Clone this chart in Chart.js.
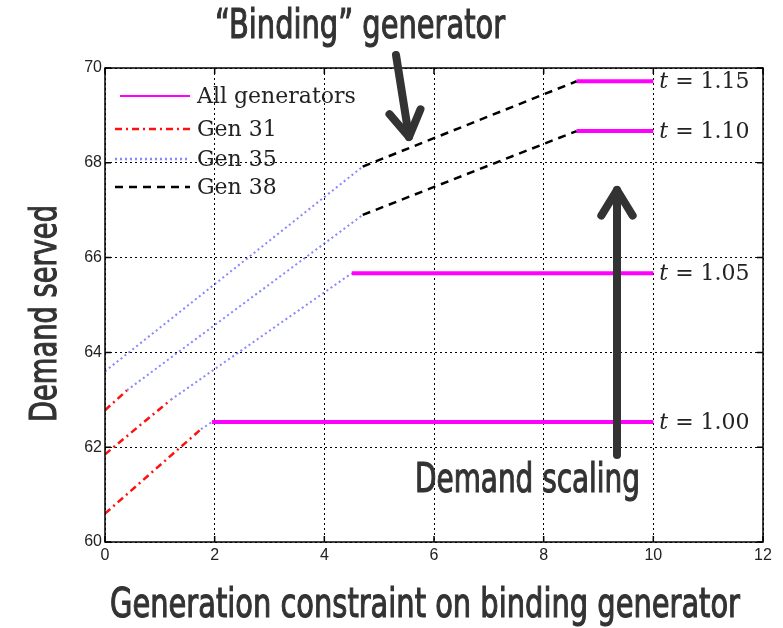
<!DOCTYPE html>
<html><head><meta charset="utf-8">
<script src="https://cdn.jsdelivr.net/npm/chart.js@4"></script>
<style>html,body{margin:0;padding:0;background:#fff;}#wrap{width:783px;height:628px;}</style>
</head><body><div id="wrap"><canvas id="c" width="783" height="628"></canvas></div>
<script>
// ---------- data ----------
const xTicks = [0, 2, 4, 6, 8, 10, 12];
const yTicks = [60, 62, 64, 66, 68, 70];
const scalingLabels = ['1.00', '1.05', '1.10', '1.15'];
// "All generators" (magenta) flat segments, one per scaling t
const allGenStartX = [1.95, 4.5, 8.6, 8.6];
const allGenEndX = [10, 10, 10, 10];
const allGenLevel = [62.53, 65.67, 68.67, 69.72];
// Gen 31 (red) segments
const gen31X = [[0, 1.75], [0, 1.2], [0, 0.4]];
const gen31Y = [[60.6, 62.38], [61.85, 63.0], [62.78, 63.2]];
// Gen 35 (blue) segments
const gen35X = [[1.75, 1.95], [1.2, 4.5], [0.4, 4.7], [0, 4.7]];
const gen35Y = [[62.38, 62.53], [63.0, 65.67], [63.2, 66.9], [63.6, 67.92]];
// Gen 38 (black) segments
const gen38X = [[4.7, 8.6], [4.7, 8.6]];
const gen38Y = [[66.9, 68.67], [67.92, 69.72]];
const xTitle = 'Generation constraint on binding generator';
const yTitle = 'Demand served';

// ---------- styles ----------
const styles = {
  'All generators': {color: '#ff00ff', width: 4, dash: [], legendWidth: 2},
  'Gen 31': {color: '#ff1010', width: 2.5, dash: [7, 4, 2, 4], legendWidth: 2.5},
  'Gen 35': {color: 'rgba(70,70,255,0.65)', width: 2, dash: [2, 3], legendWidth: 2.5},
  'Gen 38': {color: '#000000', width: 2.5, dash: [8, 6], legendWidth: 2.5}
};

function seg(name, xs, ys) {
  const st = styles[name];
  return {
    label: name,
    data: xs.map((x, i) => ({x: x, y: ys[i]})),
    showLine: true, fill: false, pointRadius: 0,
    borderColor: st.color, borderWidth: st.width, borderDash: st.dash,
    borderCapStyle: 'butt'
  };
}
const datasets = [];
gen31X.forEach((xs, i) => datasets.push(seg('Gen 31', xs, gen31Y[i])));
gen35X.forEach((xs, i) => datasets.push(seg('Gen 35', xs, gen35Y[i])));
gen38X.forEach((xs, i) => datasets.push(seg('Gen 38', xs, gen38Y[i])));
allGenLevel.forEach((lv, i) => datasets.push(seg('All generators', [allGenStartX[i], allGenEndX[i]], [lv, lv])));

const annotFont = '"Liberation Sans Narrow", "DejaVu Sans Condensed", sans-serif';
const serifFont = '"DejaVu Serif", "Liberation Serif", serif';

function fitText(ctx, text, left, baseline, targetW, font, rot) {
  ctx.save();
  ctx.font = font;
  const w = ctx.measureText(text).width;
  ctx.translate(left, baseline);
  if (rot) ctx.rotate(rot);
  ctx.scale(targetW / w, 1);
  ctx.textAlign = 'left';
  ctx.textBaseline = 'alphabetic';
  ctx.fillStyle = '#333';
  ctx.strokeStyle = '#333';
  ctx.lineWidth = 1.1;
  ctx.setLineDash([]);
  ctx.fillText(text, 0, 0);
  ctx.strokeText(text, 0, 0);
  ctx.restore();
}
function arrow(ctx, x0, y0, x1, y1, lw, head) {
  const a = Math.atan2(y1 - y0, x1 - x0);
  ctx.save();
  ctx.strokeStyle = '#333'; ctx.lineWidth = lw; ctx.lineCap = 'round'; ctx.lineJoin = 'round';
  ctx.setLineDash([]);
  ctx.beginPath(); ctx.moveTo(x0, y0); ctx.lineTo(x1, y1); ctx.stroke();
  ctx.beginPath();
  ctx.moveTo(x1 - head * Math.cos(a - 0.55), y1 - head * Math.sin(a - 0.55));
  ctx.lineTo(x1, y1);
  ctx.lineTo(x1 - head * Math.cos(a + 0.55), y1 - head * Math.sin(a + 0.55));
  ctx.stroke();
  ctx.restore();
}

const decor = {
  id: 'decor',
  afterDraw(chart) {
    const ctx = chart.ctx, ca = chart.chartArea, xs = chart.scales.x, ys = chart.scales.y;
    ctx.save();
    // box
    ctx.setLineDash([]);
    ctx.strokeStyle = '#000'; ctx.lineWidth = 1.5;
    ctx.strokeRect(ca.left, ca.top, ca.right - ca.left, ca.bottom - ca.top);
    // inner ticks
    yTicks.forEach(v => {
      const y = ys.getPixelForValue(v);
      ctx.beginPath(); ctx.moveTo(ca.left, y); ctx.lineTo(ca.left + 6, y);
      ctx.moveTo(ca.right, y); ctx.lineTo(ca.right - 6, y); ctx.stroke();
    });
    xTicks.forEach(v => {
      const x = xs.getPixelForValue(v);
      ctx.beginPath(); ctx.moveTo(x, ca.bottom); ctx.lineTo(x, ca.bottom - 6);
      ctx.moveTo(x, ca.top); ctx.lineTo(x, ca.top + 6); ctx.stroke();
    });
    // legend
    const names = ['All generators', 'Gen 31', 'Gen 35', 'Gen 38'];
    const rowY = [96, 129, 159, 187];
    names.forEach((n, i) => {
      const st = styles[n];
      const y = rowY[i];
      ctx.strokeStyle = st.color; ctx.lineWidth = st.legendWidth;
      ctx.setLineDash(st.dash);
      ctx.beginPath(); ctx.moveTo(ca.left + (i === 0 ? 15 : 10), y); ctx.lineTo(ca.left + 85, y); ctx.stroke();
      ctx.setLineDash([]);
      ctx.fillStyle = '#222';
      ctx.font = '22px ' + serifFont;
      ctx.textBaseline = 'middle'; ctx.textAlign = 'left';
      ctx.fillText(n, ca.left + 92, y + 1);
    });
    // t labels
    allGenLevel.forEach((lv, i) => {
      const y = ys.getPixelForValue(lv);
      const x = xs.getPixelForValue(allGenEndX[i]) + 6;
      ctx.fillStyle = '#222';
      ctx.textBaseline = 'middle'; ctx.textAlign = 'left';
      ctx.font = 'italic 22px ' + serifFont;
      ctx.fillText('t', x, y + 1);
      const tw = ctx.measureText('t').width;
      ctx.font = '22px ' + serifFont;
      ctx.fillText(' = ' + scalingLabels[i], x + tw, y + 1);
    });
    // annotations and axis titles
    fitText(ctx, '\u201CBinding\u201D generator', 215, 38, 290, '40px ' + annotFont);
    fitText(ctx, 'Demand scaling', 415, 492, 225, '40px ' + annotFont);
    fitText(ctx, xTitle, 110, 617, 630, '40px ' + annotFont);
    fitText(ctx, yTitle, 56, 422, 217, '38px ' + annotFont, -Math.PI / 2);
    arrow(ctx, 396, 55, 409, 137, 8, 30);
    arrow(ctx, 617, 455, 617, 190, 8, 30);
    ctx.restore();
  }
};

new Chart(document.getElementById('c'), {
  type: 'scatter',
  data: {datasets: datasets},
  options: {
    responsive: false, animation: false, devicePixelRatio: 1,
    layout: {padding: {top: 68, right: 20, left: 0, bottom: 0}},
    plugins: {legend: {display: false}, tooltip: {enabled: false}},
    scales: {
      x: {
        type: 'linear', min: 0, max: 12,
        afterFit: s => { s.height = 86; },
        afterBuildTicks: s => { s.ticks = xTicks.map(v => ({value: v})); },
        ticks: {font: {family: '"Liberation Sans", Arial, sans-serif', size: 16}, color: '#222', padding: 4, maxRotation: 0},
        grid: {color: '#000', lineWidth: 1, drawTicks: false},
        border: {display: false, dash: [2, 3]},
        title: {display: false, text: xTitle}
      },
      y: {
        type: 'linear', min: 60, max: 70,
        afterFit: s => { s.width = 105; },
        afterBuildTicks: s => { s.ticks = yTicks.map(v => ({value: v})); },
        ticks: {font: {family: '"Liberation Sans", Arial, sans-serif', size: 16}, color: '#222', padding: 3},
        grid: {color: '#000', lineWidth: 1, drawTicks: false},
        border: {display: false, dash: [2, 3]},
        title: {display: false, text: yTitle}
      }
    }
  },
  plugins: [decor]
});
</script></body></html>
